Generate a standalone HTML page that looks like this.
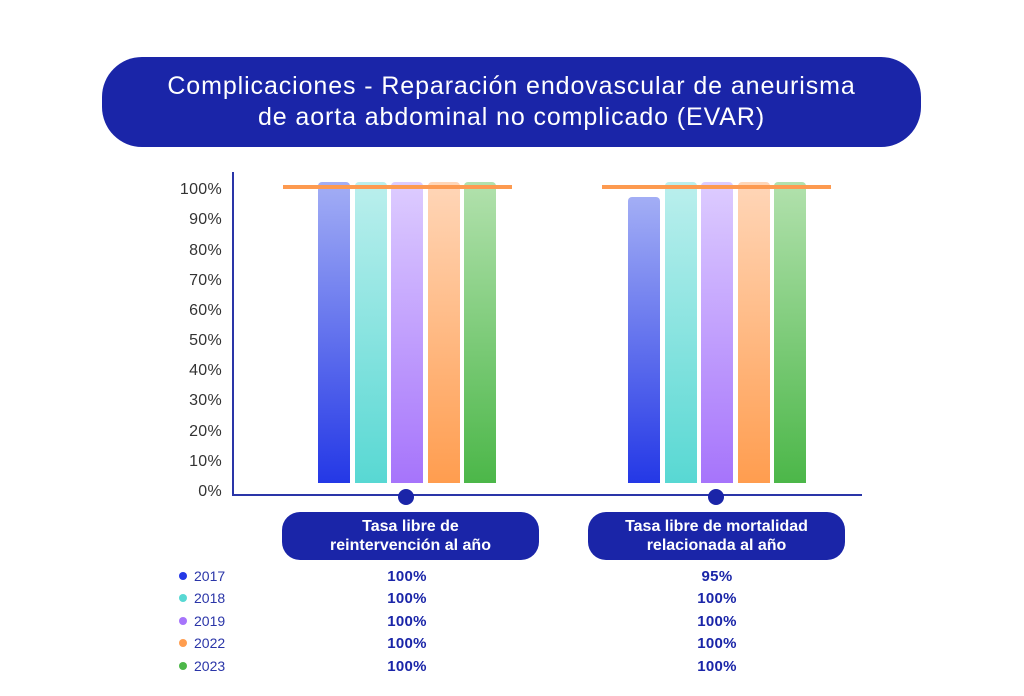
<!DOCTYPE html>
<html><head><meta charset="utf-8"><style>
body{margin:0;width:1024px;height:696px;background:#fff;font-family:"Liberation Sans",sans-serif;position:relative;overflow:hidden}
.a{position:absolute}
.pill{background:#1a25a8;color:#fff;text-align:center;position:absolute}
.yl{position:absolute;left:160px;width:62px;text-align:right;font-size:16px;color:#333;line-height:16px;letter-spacing:0.3px}
.bar{position:absolute;bottom:213px;width:32px;border-radius:4px 4px 0 0}
.b1{background:linear-gradient(#a3aef5,#2438e6)}
.b2{background:linear-gradient(#bbefed,#58d8d3)}
.b3{background:linear-gradient(#ddccff,#a674fb)}
.b4{background:linear-gradient(#ffd6b8,#ff9d4f)}
.b5{background:linear-gradient(#b2e1ad,#4cb749)}
.lg{position:absolute;left:179px;font-size:14px;color:#2a35a8;line-height:16px}
.lg i{display:inline-block;width:8px;height:8px;border-radius:50%;margin-right:7px;vertical-align:1px}
.v{position:absolute;width:100px;text-align:center;font-size:15px;color:#1a25a8;line-height:16px;font-weight:bold;letter-spacing:0.3px}
</style></head><body>
<div class="pill" style="left:102px;top:57px;width:819px;height:90px;border-radius:40px;font-size:25px;letter-spacing:0.9px;line-height:31px;padding-top:14px;box-sizing:border-box">Complicaciones - Reparación endovascular de aneurisma<br>de aorta abdominal no complicado (EVAR)</div>
<div class="a" style="left:232px;top:172px;width:2px;height:324px;background:#2a35a8"></div>
<div class="a" style="left:232px;top:494px;width:630px;height:2px;background:#2a35a8"></div>
<div class="yl" style="top:182px">100%</div><div class="yl" style="top:212px">90%</div><div class="yl" style="top:243px">80%</div><div class="yl" style="top:273px">70%</div><div class="yl" style="top:303px">60%</div><div class="yl" style="top:333px">50%</div><div class="yl" style="top:363px">40%</div><div class="yl" style="top:393px">30%</div><div class="yl" style="top:424px">20%</div><div class="yl" style="top:454px">10%</div><div class="yl" style="top:484px">0%</div>
<div class="bar b1" style="left:318px;height:301px"></div>
<div class="bar b2" style="left:355px;height:301px"></div>
<div class="bar b3" style="left:391px;height:301px"></div>
<div class="bar b4" style="left:428px;height:301px"></div>
<div class="bar b5" style="left:464px;height:301px"></div>
<div class="bar b1" style="left:628px;height:286px"></div>
<div class="bar b2" style="left:665px;height:301px"></div>
<div class="bar b3" style="left:701px;height:301px"></div>
<div class="bar b4" style="left:738px;height:301px"></div>
<div class="bar b5" style="left:774px;height:301px"></div>
<div class="a" style="left:283px;top:185px;width:229px;height:4px;background:#fd9a50"></div>
<div class="a" style="left:602px;top:185px;width:229px;height:4px;background:#fd9a50"></div>
<div class="a" style="left:398px;top:489px;width:16px;height:16px;border-radius:50%;background:#1a25a8"></div>
<div class="a" style="left:708px;top:489px;width:16px;height:16px;border-radius:50%;background:#1a25a8"></div>
<div class="pill" style="left:282px;top:512px;width:257px;height:48px;border-radius:18px;font-size:16px;line-height:19px;padding-top:5px;box-sizing:border-box;font-weight:bold">Tasa libre de<br>reintervención al año</div>
<div class="pill" style="left:588px;top:512px;width:257px;height:48px;border-radius:18px;font-size:16px;line-height:19px;padding-top:5px;box-sizing:border-box;font-weight:bold">Tasa libre de mortalidad<br>relacionada al año</div>
<div class="lg" style="top:568px"><i style="background:#2438e6"></i>2017</div>
<div class="lg" style="top:590px"><i style="background:#58d8d3"></i>2018</div>
<div class="lg" style="top:613px"><i style="background:#a674fb"></i>2019</div>
<div class="lg" style="top:635px"><i style="background:#ff9d4f"></i>2022</div>
<div class="lg" style="top:658px"><i style="background:#4cb749"></i>2023</div>
<div class="v" style="left:357px;top:569px">100%</div><div class="v" style="left:667px;top:569px">95%</div>
<div class="v" style="left:357px;top:591px">100%</div><div class="v" style="left:667px;top:591px">100%</div>
<div class="v" style="left:357px;top:614px">100%</div><div class="v" style="left:667px;top:614px">100%</div>
<div class="v" style="left:357px;top:636px">100%</div><div class="v" style="left:667px;top:636px">100%</div>
<div class="v" style="left:357px;top:659px">100%</div><div class="v" style="left:667px;top:659px">100%</div>
</body></html>
